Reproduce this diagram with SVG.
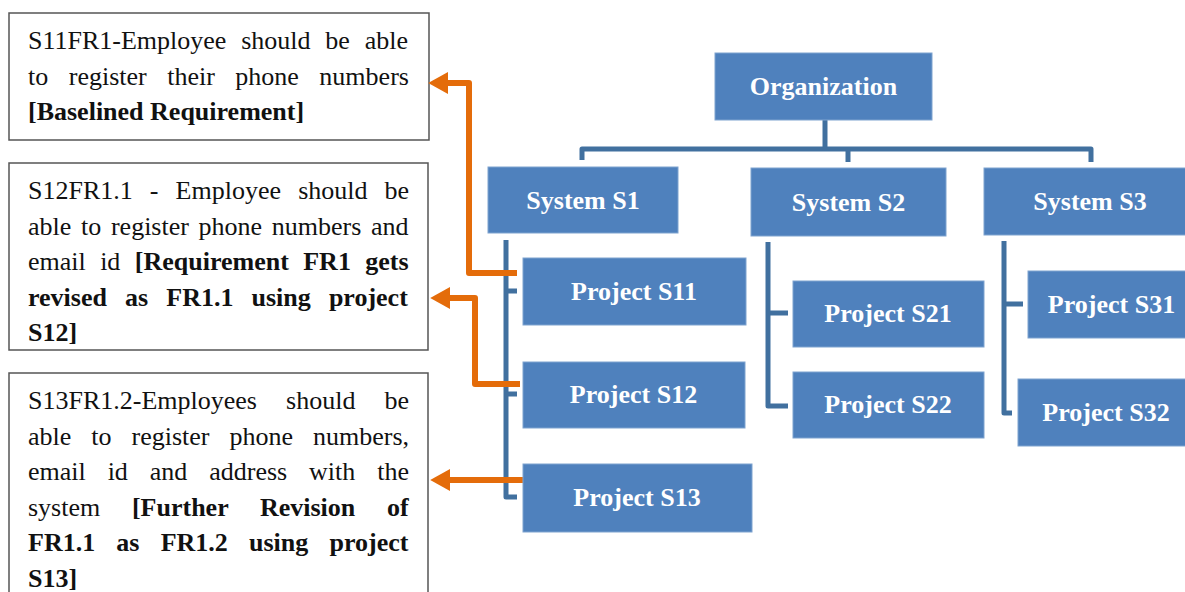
<svg xmlns="http://www.w3.org/2000/svg" width="1185" height="592" viewBox="0 0 1185 592">
<style>
.note{fill:#fff;stroke:#555;stroke-width:1.5}
.nt{font-family:"Liberation Serif","Times New Roman",serif;font-size:26px;fill:#111}
.b{font-weight:bold}
.box{fill:#4F81BD;stroke:#7fa3cf;stroke-width:1}
.lbl{font-family:"Liberation Serif","Times New Roman",serif;font-size:26px;font-weight:bold;fill:#fff;text-anchor:middle}
.tree{fill:none;stroke:#41709F;stroke-width:5;stroke-linejoin:round}
.link{fill:none;stroke:#E46C0A;stroke-width:6;stroke-linejoin:round}
</style>
<defs>
<marker id="ah" markerUnits="userSpaceOnUse" markerWidth="20" markerHeight="22" refX="0" refY="10" orient="auto" viewBox="0 0 18 20">
<path d="M0,0 L18,10 L0,20 z" fill="#E46C0A"/>
</marker>
</defs>

<g id="note1">
<rect class="note" x="9" y="13" width="420" height="127"/>
<text class="nt" x="28" y="49" word-spacing="8.3">S11FR1-Employee should be able</text>
<text class="nt" x="28" y="84.5" word-spacing="14">to register their phone numbers</text>
<text class="nt b" x="28" y="120">[Baselined Requirement]</text>
</g>

<g id="note2">
<rect class="note" x="9" y="163" width="419" height="187"/>
<text class="nt" x="28" y="199" word-spacing="10.6">S12FR1.1 - Employee should be</text>
<text class="nt" x="28" y="234.5" word-spacing="3.2">able to register phone numbers and</text>
<text class="nt" x="28" y="270" word-spacing="7.9">email id <tspan class="b">[Requirement FR1 gets</tspan></text>
<text class="nt b" x="28" y="305.5" word-spacing="11.6">revised as FR1.1 using project</text>
<text class="nt b" x="28" y="341">S12]</text>
</g>

<g id="note3">
<rect class="note" x="9" y="373" width="419" height="240"/>
<text class="nt" x="28" y="409" word-spacing="22.6">S13FR1.2-Employees should be</text>
<text class="nt" x="28" y="444.5" word-spacing="13.5">able to register phone numbers,</text>
<text class="nt" x="28" y="480" word-spacing="15.4">email id and address with the</text>
<text class="nt" x="28" y="515.5" word-spacing="25.2">system <tspan class="b">[Further Revision of</tspan></text>
<text class="nt b" x="28" y="551" word-spacing="14.7">FR1.1 as FR1.2 using project</text>
<text class="nt b" x="28" y="586.5">S13]</text>
</g>

<g id="connectors">
<path class="tree" d="M825,120 V149"/>
<path class="tree" d="M582,160 V149 H1091 V162"/>
<path class="tree" d="M848,149 V162"/>
<path class="tree" d="M506,240 V497 H517 M506,291 H517 M506,394 H517"/>
<path class="tree" d="M768,242 V406 H788 M768,313 H788"/>
<path class="tree" d="M1004,241 V413 H1012 M1004,304 H1023"/>
<path class="link" d="M517,273 H469 V83 H448" marker-end="url(#ah)"/>
<path class="link" d="M520,384 H475 V298 H450" marker-end="url(#ah)"/>
<path class="link" d="M529,480 H450" marker-end="url(#ah)"/>
</g>

<g id="organization">
<rect class="box" x="715" y="53" width="217" height="67"/>
<text class="lbl" x="823.5" y="95">Organization</text>
</g>
<g id="system-s1">
<rect class="box" x="488" y="167" width="190" height="66"/>
<text class="lbl" x="583" y="209">System S1</text>
</g>
<g id="system-s2">
<rect class="box" x="751" y="168" width="195" height="68"/>
<text class="lbl" x="848.5" y="211">System S2</text>
</g>
<g id="system-s3">
<rect class="box" x="984" y="168" width="210" height="67"/>
<text class="lbl" x="1090" y="210">System S3</text>
</g>
<g id="project-s11">
<rect class="box" x="523" y="258" width="223" height="67"/>
<text class="lbl" x="634" y="300">Project S11</text>
</g>
<g id="project-s12">
<rect class="box" x="523" y="362" width="222" height="66"/>
<text class="lbl" x="633.5" y="403">Project S12</text>
</g>
<g id="project-s13">
<rect class="box" x="523" y="464" width="229" height="68"/>
<text class="lbl" x="637" y="506">Project S13</text>
</g>
<g id="project-s21">
<rect class="box" x="793" y="281" width="191" height="66"/>
<text class="lbl" x="888" y="322">Project S21</text>
</g>
<g id="project-s22">
<rect class="box" x="793" y="372" width="191" height="66"/>
<text class="lbl" x="888" y="413">Project S22</text>
</g>
<g id="project-s31">
<rect class="box" x="1028" y="271" width="170" height="67"/>
<text class="lbl" x="1111.5" y="313">Project S31</text>
</g>
<g id="project-s32">
<rect class="box" x="1018" y="379" width="180" height="67"/>
<text class="lbl" x="1106" y="421">Project S32</text>
</g>
</svg>
